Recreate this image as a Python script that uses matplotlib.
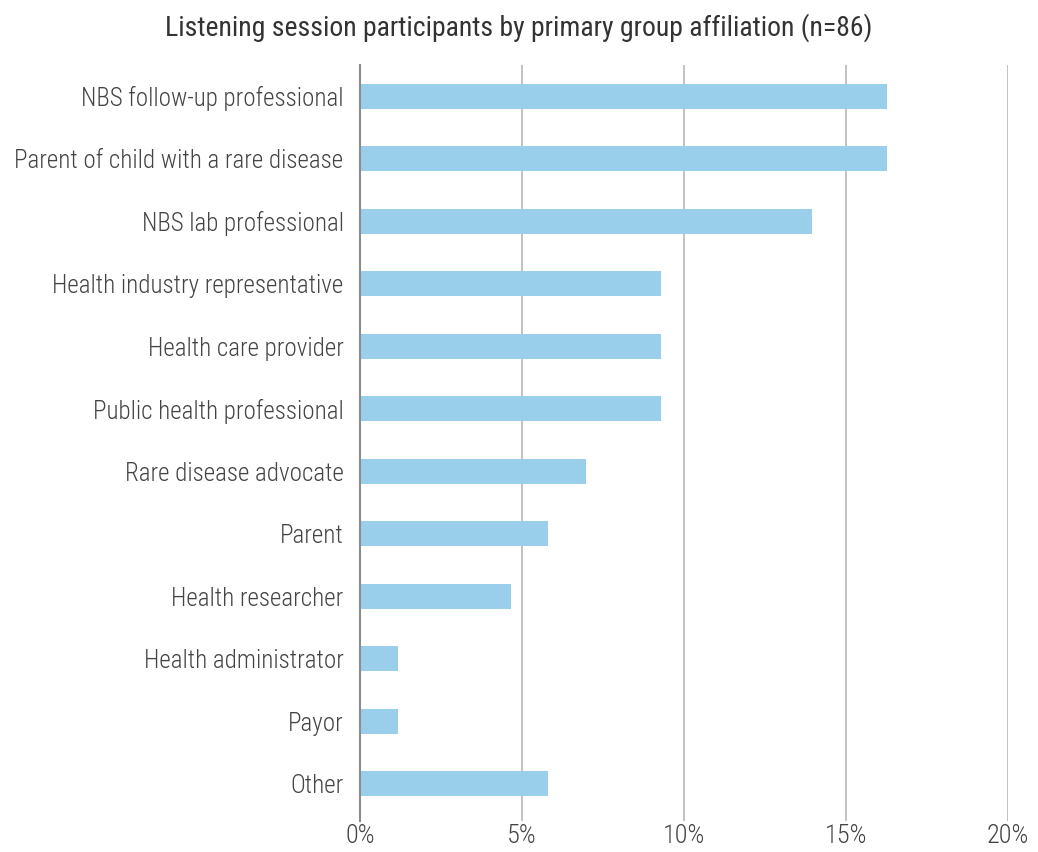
import matplotlib
matplotlib.use("Agg")
import matplotlib.pyplot as plt
from matplotlib.ticker import FuncFormatter

categories = [
    "NBS follow-up professional",
    "Parent of child with a rare disease",
    "NBS lab professional",
    "Health industry representative",
    "Health care provider",
    "Public health professional",
    "Rare disease advocate",
    "Parent",
    "Health researcher",
    "Health administrator",
    "Payor",
    "Other",
]
counts = [14, 14, 12, 8, 8, 8, 6, 5, 4, 1, 1, 5]
n_total = 86
shares = [c / n_total * 100 for c in counts]
xticks = [0, 5, 10, 15, 20]

plt.rcParams["font.family"] = ["Roboto Condensed", "DejaVu Sans"]
plt.rcParams["font.weight"] = "light"

fig = plt.figure(figsize=(10.38, 8.52), dpi=100)
ax = fig.add_axes([0.347, 0.036, 0.624, 0.888])

ypos = list(range(len(categories)))
ax.barh(ypos, shares, height=0.4, color="#99cfeb", zorder=3)
ax.set_yticks(ypos)
ax.set_yticklabels(categories)
ax.set_ylim(11.6, -0.5)
ax.set_xlim(0, 20)
ax.set_xticks(xticks)
ax.xaxis.set_major_formatter(FuncFormatter(lambda v, _: f"{v:.0f}%"))
ax.grid(axis="x", color="#bdbdbd", lw=1.3, zorder=0)
for s in ["top", "right", "bottom"]:
    ax.spines[s].set_visible(False)
ax.spines["left"].set_color("#8c8c8c")
ax.spines["left"].set_linewidth(1.5)
ax.spines["left"].set_zorder(4)
ax.tick_params(axis="both", length=0, labelcolor="#444444", labelsize=18)
ax.tick_params(axis="x", labelsize=19, pad=2)
ax.tick_params(axis="y", pad=12)

fig.text(0.5, 0.968, "Listening session participants by primary group affiliation (n=86)",
         ha="center", va="center", fontsize=20, color="#333333", weight="normal")

fig.savefig("out.png", dpi=100)
